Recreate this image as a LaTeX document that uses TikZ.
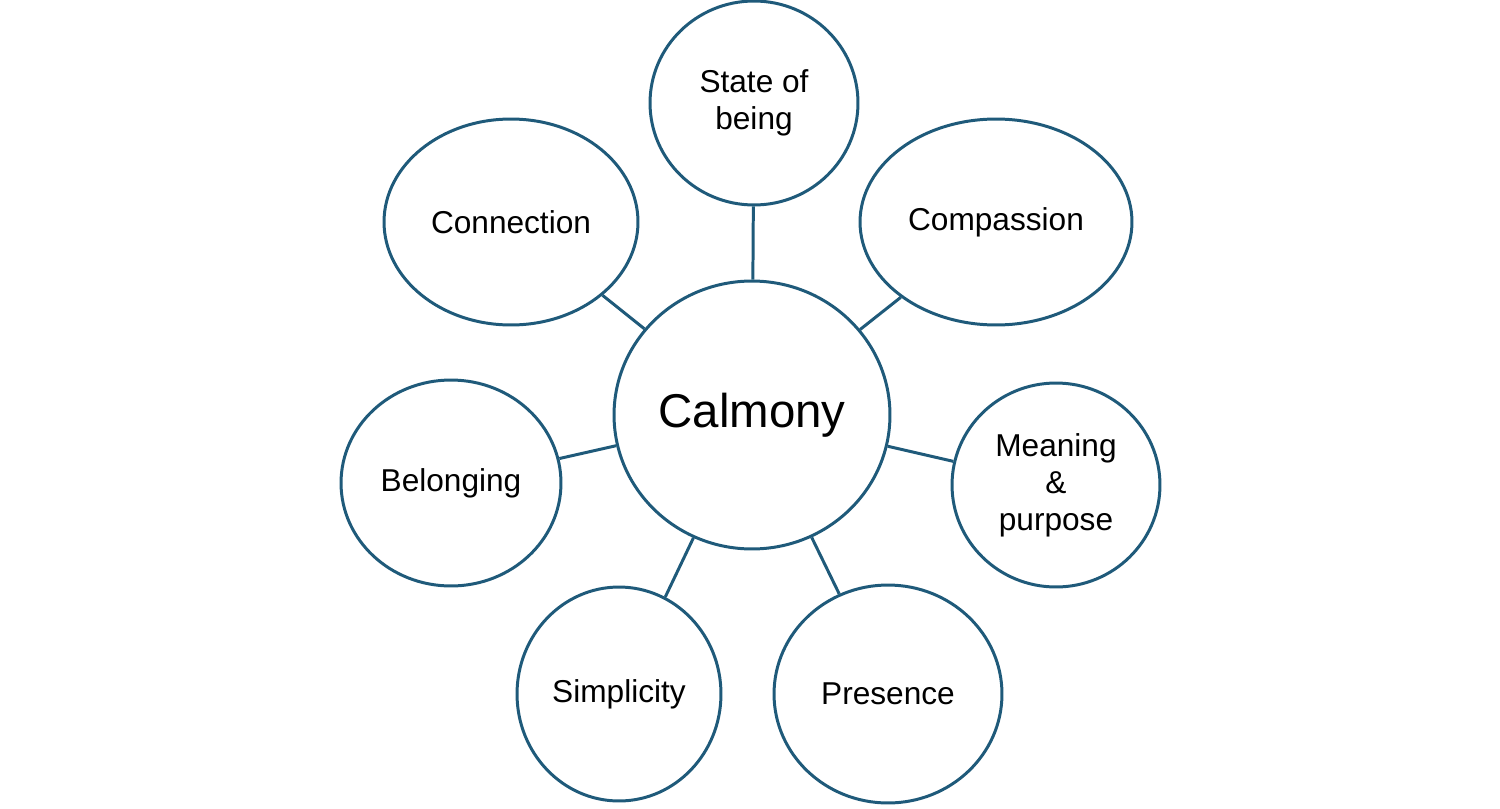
\documentclass[tikz,border=0pt]{standalone}
\usepackage{fontspec}
\setmainfont{Liberation Sans}
\usetikzlibrary{shapes.geometric}
\definecolor{ringblue}{HTML}{1F5A7A}
\begin{document}
\begin{tikzpicture}[x=0.02cm,y=-0.02cm,
    bubble/.style={ellipse, draw=ringblue, line width=1.7pt, inner sep=0pt,
      align=center, font=\fontsize{18}{21}\selectfont},
    link/.style={draw=ringblue, line width=1.7pt}]
  \useasboundingbox (0,0) rectangle (1500,808);
  \node[bubble, minimum width=5.52cm, minimum height=5.36cm, font=\fontsize{27}{30}\selectfont] (calm) at (752,415) {Calmony};
  \node[bubble, minimum width=4.16cm, minimum height=4.08cm] (state) at (754,103) {State of\\being};
  \node[bubble, minimum width=5.08cm, minimum height=4.12cm] (conn) at (511,222) {Connection};
  \node[bubble, minimum width=5.44cm, minimum height=4.12cm] (comp) at (996,222) {Compassion};
  \node[bubble, minimum width=4.40cm, minimum height=4.12cm] (belong) at (451,483) {Belonging};
  \node[bubble, minimum width=4.16cm, minimum height=4.08cm] (mean) at (1056,485) {Meaning\\\&\\purpose};
  \node[bubble, minimum width=4.08cm, minimum height=4.28cm] (simp) at (619,694) {Simplicity};
  \node[bubble, minimum width=4.56cm, minimum height=4.36cm] (pres) at (888,694) {Presence};
  \foreach \n in {state,conn,comp,belong,mean,simp,pres}
    \draw[link] (calm) -- (\n);
\end{tikzpicture}
\end{document}
